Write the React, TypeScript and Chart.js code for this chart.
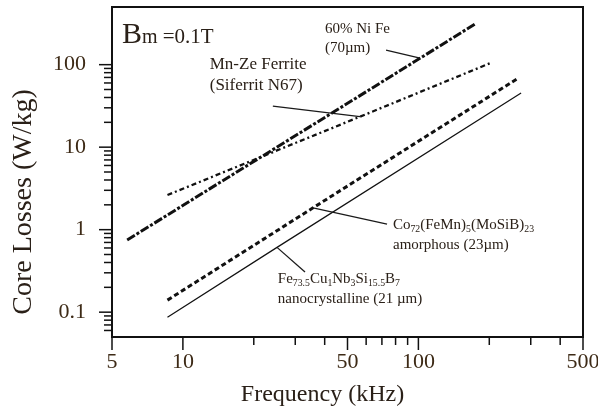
import { useEffect, useRef } from 'react';
import { Chart, registerables } from 'chart.js';

Chart.register(...registerables);

const FONT = '"Liberation Serif", "Times New Roman", serif';
const INK = '#2a2018';
const TICK_INK = '#3d2a16';

// ---- data: frequency (kHz) vs core losses (W/kg) at Bm = 0.1 T ----
const niFeFreq = [5.8, 44.3, 174];
const niFeLoss = [0.75, 27.4, 311];
const ferriteFreq = [8.6, 56.5, 203];
const ferriteLoss = [2.63, 23.4, 105];
const amorphousFreq = [8.6, 35.7, 262];
const amorphousLoss = [0.14, 1.84, 67];
const nanoFreq = [8.6, 25.1, 273];
const nanoLoss = [0.087, 0.61, 45.4];

const xTicks = [5, 10, 20, 30, 40, 50, 60, 70, 80, 90, 100, 200, 300, 400, 500];
const xTickLabels = ['5', '10', '50', '100', '500'];
const yTicks = [0.06, 0.07, 0.08, 0.09, 0.1, 0.2, 0.3, 0.4, 0.5, 0.6, 0.7, 0.8, 0.9, 1, 2, 3, 4, 5, 6, 7, 8, 9, 10, 20, 30, 40, 50, 60, 70, 80, 90, 100];
const yTickLabels = ['0.1', '1', '10', '100'];

type Seg = { t: string; sub?: boolean; size?: number };
type Note = { f: number; w: number; size: number; segs: Seg[] };

const notes: Note[] = [
  { f: 5.51, w: 183, size: 21, segs: [{ t: 'B', size: 30 }, { t: 'm', size: 20 }, { t: ' =0.1T' }] },
  { f: 40.1, w: 242, size: 15, segs: [{ t: '60% Ni Fe' }] },
  { f: 40.1, w: 142, size: 15, segs: [{ t: '(70µm)' }] },
  { f: 13.0, w: 88.6, size: 17, segs: [{ t: 'Mn-Ze Ferrite' }] },
  { f: 13.0, w: 49.3, size: 17, segs: [{ t: '(Siferrit N67)' }] },
  {
    f: 78, w: 1.02, size: 15,
    segs: [{ t: 'Co' }, { t: '72', sub: true }, { t: '(FeMn)' }, { t: '5', sub: true }, { t: '(MoSiB)' }, { t: '23', sub: true }],
  },
  { f: 78, w: 0.583, size: 15, segs: [{ t: 'amorphous (23µm)' }] },
  {
    f: 25.3, w: 0.226, size: 15,
    segs: [
      { t: 'Fe' }, { t: '73.5', sub: true }, { t: 'Cu' }, { t: '1', sub: true }, { t: 'Nb' }, { t: '3', sub: true },
      { t: 'Si' }, { t: '15.5', sub: true }, { t: 'B' }, { t: '7', sub: true },
    ],
  },
  { f: 25.3, w: 0.129, size: 15, segs: [{ t: 'nanocrystalline (21 µm)' }] },
];

const leaders: [number, number][][] = [
  [[72.9, 150], [101.6, 120]],
  [[24.1, 31.5], [56.5, 23.4]],
  [[35.7, 1.84], [73.6, 1.17]],
  [[25.1, 0.61], [33.0, 0.307]],
];

const pts = (xs: number[], ys: number[]) => xs.map((x, i) => ({ x, y: ys[i] }));

const decorPlugin = {
  id: 'decor',
  afterDatasetsDraw(chart: any) {
    const { ctx, chartArea: a, scales } = chart;
    const xs = scales.x;
    const ys = scales.y;
    ctx.save();
    // frame
    ctx.strokeStyle = '#111';
    ctx.lineWidth = 2;
    ctx.strokeRect(a.left, a.top, a.right - a.left, a.bottom - a.top);
    // tick marks
    ctx.lineWidth = 1.5;
    for (const t of xs.ticks) {
      const px = xs.getPixelForValue(t.value);
      const major = xTickLabels.includes(String(t.value));
      ctx.beginPath();
      ctx.moveTo(px, a.bottom);
      ctx.lineTo(px, a.bottom + (major ? 13 : 8));
      ctx.stroke();
    }
    for (const t of ys.ticks) {
      const py = ys.getPixelForValue(t.value);
      const major = yTickLabels.includes(String(t.value));
      ctx.beginPath();
      ctx.moveTo(a.left, py);
      ctx.lineTo(a.left - (major ? 13 : 8), py);
      ctx.stroke();
    }
    // leader lines
    ctx.lineWidth = 1.3;
    ctx.strokeStyle = '#1a1a1a';
    for (const l of leaders) {
      ctx.beginPath();
      l.forEach(([f, w], i) => {
        const px = xs.getPixelForValue(f);
        const py = ys.getPixelForValue(w);
        if (i === 0) ctx.moveTo(px, py);
        else ctx.lineTo(px, py);
      });
      ctx.stroke();
    }
    // annotation text
    ctx.fillStyle = INK;
    ctx.textBaseline = 'alphabetic';
    ctx.textAlign = 'left';
    for (const n of notes) {
      let px = xs.getPixelForValue(n.f);
      const py = ys.getPixelForValue(n.w);
      for (const s of n.segs) {
        const size = s.size ?? (s.sub ? n.size * 0.65 : n.size);
        ctx.font = `${size}px ${FONT}`;
        ctx.fillText(s.t, px, py + (s.sub ? n.size * 0.22 : 0));
        px += ctx.measureText(s.t).width;
      }
    }
    // axis titles
    ctx.fillStyle = INK;
    ctx.textAlign = 'center';
    ctx.textBaseline = 'middle';
    ctx.font = `24px ${FONT}`;
    ctx.fillText('Frequency (kHz)', (a.left + a.right) / 2 - 25, 395);
    ctx.save();
    ctx.translate(24, (a.top + a.bottom) / 2 + 30);
    ctx.rotate(-Math.PI / 2);
    ctx.font = `28px ${FONT}`;
    ctx.fillText('Core Losses (W/kg)', 0, 0);
    ctx.restore();
    ctx.restore();
  },
};

export default function App() {
  const ref = useRef<HTMLCanvasElement | null>(null);
  useEffect(() => {
    if (!ref.current) return;
    const chart = new Chart(ref.current, {
      type: 'line',
      data: {
        datasets: [
          {
            label: '60% Ni Fe (70µm)',
            data: pts(niFeFreq, niFeLoss),
            borderColor: '#111', borderWidth: 3, borderDash: [9, 2, 3, 2],
            pointRadius: 0, fill: false, tension: 0,
          },
          {
            label: 'Mn-Ze Ferrite (Siferrit N67)',
            data: pts(ferriteFreq, ferriteLoss),
            borderColor: '#111', borderWidth: 2.3, borderDash: [5, 3, 2, 3],
            pointRadius: 0, fill: false, tension: 0,
          },
          {
            label: 'Co72(FeMn)5(MoSiB)23 amorphous (23µm)',
            data: pts(amorphousFreq, amorphousLoss),
            borderColor: '#111', borderWidth: 3, borderDash: [5, 3],
            pointRadius: 0, fill: false, tension: 0,
          },
          {
            label: 'Fe73.5Cu1Nb3Si15.5B7 nanocrystalline (21 µm)',
            data: pts(nanoFreq, nanoLoss),
            borderColor: '#111', borderWidth: 1.2,
            pointRadius: 0, fill: false, tension: 0,
          },
        ],
      },
      options: {
        responsive: false,
        animation: false,
        layout: { padding: { left: 0, top: 7, right: 15, bottom: 0 } },
        plugins: { legend: { display: false }, tooltip: { enabled: false } },
        scales: {
          x: {
            type: 'logarithmic',
            min: 5,
            max: 500,
            afterBuildTicks: (s: any) => {
              s.ticks = xTicks.map((v) => ({ value: v, major: xTickLabels.includes(String(v)) }));
            },
            afterFit: (s: any) => {
              s.height = 74;
              s.paddingLeft = 0;
              s.paddingRight = 0;
            },
            ticks: {
              autoSkip: false,
              maxRotation: 0,
              padding: 12,
              color: TICK_INK,
              font: { family: FONT, size: 22 },
              callback: (v: any) => (xTickLabels.includes(String(v)) ? String(v) : ''),
            },
            grid: { display: false, drawTicks: false },
            border: { display: false },
          },
          y: {
            type: 'logarithmic',
            min: 0.05,
            max: 500,
            afterBuildTicks: (s: any) => {
              s.ticks = yTicks.map((v) => ({ value: v, major: yTickLabels.includes(String(v)) }));
            },
            afterFit: (s: any) => {
              s.width = 112;
              s.paddingTop = 0;
              s.paddingBottom = 0;
            },
            ticks: {
              autoSkip: false,
              padding: 26,
              color: TICK_INK,
              font: { family: FONT, size: 22 },
              callback: (v: any) => (yTickLabels.includes(String(v)) ? String(v) : ''),
            },
            grid: { display: false, drawTicks: false },
            border: { display: false },
          },
        },
      },
      plugins: [decorPlugin],
    } as any);
    return () => chart.destroy();
  }, []);
  return (
    <div style={{ position: 'absolute', left: 0, top: 0, width: 598, height: 411, background: '#fff' }}>
      <canvas ref={ref} width={598} height={411} />
    </div>
  );
}
